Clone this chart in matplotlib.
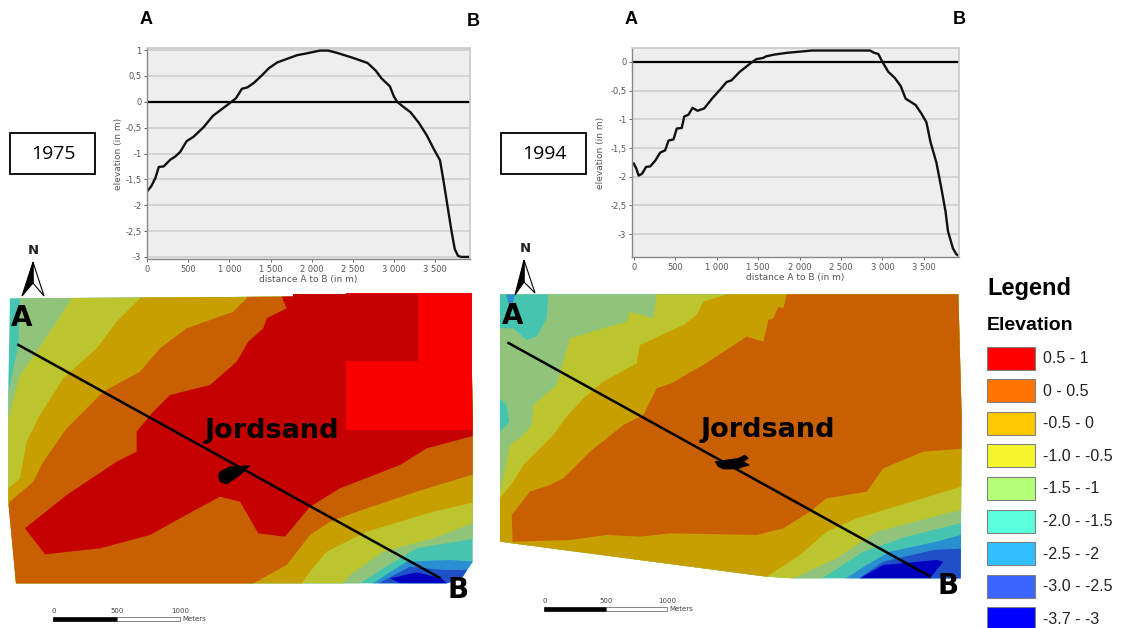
import matplotlib
matplotlib.use('Agg')
import matplotlib.pyplot as plt
from matplotlib.patches import Polygon, Rectangle

W, H = 1124, 628

# elevation profiles A to B
dist_1975 = [0, 50, 100, 140, 200, 280, 340, 400, 480, 560, 680, 800, 900, 1000, 1080, 1150, 1220, 1300, 1400, 1480,
             1580, 1700, 1820, 1950, 2100, 2200, 2300, 2500, 2680, 2780, 2850, 2950, 3000, 3040, 3100, 3200, 3300,
             3400, 3480, 3560, 3600, 3650, 3700, 3740, 3780, 3820, 3900]
elev_1975 = [-1.73, -1.63, -1.47, -1.26, -1.25, -1.12, -1.06, -0.97, -0.76, -0.68, -0.5, -0.27, -0.15, -0.03, 0.07,
             0.25, 0.28, 0.37, 0.52, 0.65, 0.76, 0.83, 0.9, 0.94, 0.99, 0.99, 0.95, 0.85, 0.75, 0.6, 0.45, 0.3, 0.1,
             0.0, -0.08, -0.2, -0.4, -0.65, -0.9, -1.13, -1.5, -2.0, -2.5, -2.85, -2.98, -3.0, -3.0]
dist_1994 = [0, 30, 60, 100, 150, 200, 260, 320, 380, 420, 480, 520, 580, 610, 660, 710, 770, 850, 950, 1050, 1120,
             1180, 1280, 1350, 1420, 1480, 1560, 1600, 1700, 1850, 2000, 2150, 2500, 2850, 2900, 2950, 3000, 3070,
             3150, 3220, 3280, 3400, 3470, 3530, 3580, 3650, 3710, 3760, 3790, 3850, 3890, 3910]
elev_1994 = [-1.77, -1.85, -1.98, -1.95, -1.83, -1.82, -1.72, -1.58, -1.54, -1.37, -1.35, -1.16, -1.15, -0.95, -0.92,
             -0.8, -0.85, -0.81, -0.63, -0.47, -0.35, -0.32, -0.17, -0.09, -0.01, 0.05, 0.07, 0.1, 0.13, 0.16, 0.18,
             0.2, 0.2, 0.2, 0.16, 0.14, 0.0, -0.17, -0.28, -0.42, -0.64, -0.75, -0.9, -1.05, -1.4, -1.75, -2.2, -2.6,
             -2.95, -3.25, -3.35, -3.37]

x_ticks = [0, 500, 1000, 1500, 2000, 2500, 3000, 3500]
x_labels = ['0', '500', '1 000', '1 500', '2 000', '2 500', '3 000', '3 500']
y_ticks_1975 = [1, 0.5, 0, -0.5, -1, -1.5, -2, -2.5, -3]
y_labels_1975 = ['1', '0,5', '0', '-0,5', '-1', '-1,5', '-2', '-2,5', '-3']
y_ticks_1994 = [0, -0.5, -1, -1.5, -2, -2.5, -3]
y_labels_1994 = ['0', '-0,5', '-1', '-1,5', '-2', '-2,5', '-3']

# legend
legend_labels = ['0.5 - 1', '0 - 0.5', '-0.5 - 0', '-1.0 - -0.5', '-1.5 - -1', '-2.0 - -1.5', '-2.5 - -2',
                 '-3.0 - -2.5', '-3.7 - -3']
legend_colors = ['#ff0000', '#ff7300', '#ffc800', '#f5f52e', '#b4ff78', '#5affdc', '#30c0ff', '#3c64ff', '#0000ff']

# map colours, darker than the legend in the picture
c_red = '#c40000'
c_bright = '#f80000'
c_orange = '#c85f00'
c_gold = '#c89f00'
c_yellow = '#bcc52e'
c_green = '#8fc47a'
c_teal = '#45c4b0'
c_blue = '#2a8fd0'
c_mid = '#2050c8'
c_navy = '#0000c0'

# map outlines and zones, traced on 3x crops
out_75 = [(30, 40), (850, 35), (1412, 25), (1418, 400), (1418, 830), (1385, 880), (1340, 895), (48, 895), (25, 650),
          (25, 300)]
green_75 = [(60, 0), (60, 40), (55, 180), (30, 300), (0, 400), (0, 920), (1080, 920), (1080, 895), (1150, 850),
            (1250, 790), (1430, 760), (1430, 0)]
yellow_75 = [(215, 0), (215, 40), (170, 110), (110, 200), (60, 270), (25, 400), (0, 500), (0, 920), (1030, 920),
             (1030, 895), (1050, 870), (1150, 800), (1300, 760), (1430, 710), (1430, 0)]
gold_75 = [(420, 0), (420, 40), (350, 110), (290, 190), (190, 280), (120, 390), (80, 470), (60, 580), (25, 610),
           (0, 700), (0, 920), (905, 920), (905, 895), (930, 860), (980, 800), (1100, 740), (1300, 680), (1430, 650),
           (1430, 0)]
orange_75 = [(740, 0), (740, 40), (700, 80), (560, 130), (480, 190), (420, 260), (310, 320), (200, 430), (130, 530),
             (100, 590), (30, 650), (0, 700), (0, 920), (760, 920), (760, 895), (860, 840), (930, 750), (990, 710),
             (1100, 670), (1250, 620), (1430, 565), (1430, 0)]
red_75 = [(845, 35), (860, 70), (800, 100), (790, 130), (745, 170), (710, 230), (630, 300), (510, 330), (460, 380),
          (410, 440), (410, 500), (350, 530), (200, 630), (75, 730), (135, 808), (300, 790), (450, 750), (540, 700),
          (660, 635), (720, 650), (775, 745), (855, 755), (930, 665), (1020, 610), (1200, 540), (1280, 490),
          (1430, 450), (1430, 0), (845, 0)]
blue_75 = [(1110, 900), (1220, 830), (1350, 825), (1430, 830), (1430, 900)]
mid_75 = [(1135, 895), (1230, 845), (1330, 855), (1400, 855), (1390, 900)]
navy_75 = [(1170, 880), (1250, 862), (1325, 880), (1340, 895), (1200, 895)]
isle_75 = [(660, 560), (690, 545), (750, 542), (720, 570), (680, 597), (660, 590), (655, 575)]

out_94 = [(30, 28), (1405, 28), (1415, 400), (1412, 880), (910, 880), (830, 875), (30, 770)]
green_94 = [(0, 0), (0, 920), (1000, 920), (1000, 878), (1120, 800), (1250, 755), (1430, 710), (1430, 0)]
yellow_94 = [(500, 0), (500, 28), (490, 100), (420, 80), (410, 110), (340, 130), (240, 160), (225, 210), (200, 300),
             (130, 360), (125, 420), (100, 450), (60, 480), (30, 620), (0, 700), (0, 920), (910, 920), (910, 880),
             (1040, 820), (1160, 740), (1430, 670), (1430, 0)]
gold_94 = [(710, 0), (710, 28), (640, 50), (620, 90), (580, 120), (450, 180), (440, 235), (340, 290), (280, 340),
           (230, 395), (190, 450), (100, 540), (70, 590), (30, 640), (0, 700), (0, 920), (830, 920), (830, 875),
           (930, 810), (1010, 740), (1100, 700), (1430, 600), (1430, 0)]
orange_94 = [(890, 0), (890, 28), (880, 70), (865, 65), (850, 100), (835, 105), (820, 170), (770, 155), (640, 240),
             (595, 265), (545, 295), (500, 310), (460, 390), (400, 420), (300, 500), (220, 580), (180, 600), (120, 620),
             (65, 690), (68, 770), (240, 765), (350, 750), (450, 755), (540, 745), (800, 750), (880, 730), (960, 680),
             (1010, 640), (1130, 620), (1180, 550), (1300, 500), (1430, 490), (1430, 0)]
teal_94 = [(30, 28), (175, 28), (170, 100), (140, 155), (110, 165), (70, 130), (30, 130)]
teal2_94 = [(30, 340), (50, 360), (58, 410), (30, 440)]
spot_94 = [(48, 28), (75, 28), (68, 55), (55, 55)]
blue_94 = [(1060, 885), (1130, 840), (1200, 800), (1340, 770), (1430, 745), (1430, 885)]
mid_94 = [(1100, 885), (1180, 830), (1330, 795), (1430, 790), (1430, 885)]
navy_94 = [(1110, 880), (1180, 840), (1340, 825), (1360, 830), (1320, 880)]
isle_94 = [(675, 530), (710, 525), (745, 520), (765, 510), (775, 520), (760, 530), (778, 540), (740, 552), (700, 552),
           (685, 545)]

# section lines in the same crop units
line_75 = [(52, 178), (1322, 880)]
line_94 = [(52, 172), (1322, 875)]


def crop(points, left):
    return [(left + x / 3, 285 + y / 3) for x, y in points]


fig = plt.figure(figsize=(W / 100, H / 100), dpi=100)
bg = fig.add_axes([0, 0, 1, 1])
bg.set_xlim(0, W)
bg.set_ylim(H, 0)
bg.axis('off')


def draw_map(outline, zones, left):
    clip = Polygon(crop(outline, left), closed=True, transform=bg.transData)
    bg.add_patch(Polygon(crop(outline, left), closed=True, fc=c_teal, ec='none'))
    for pts, col in zones:
        p = Polygon(crop(pts, left), closed=True, fc=col, ec='none')
        bg.add_patch(p)
        p.set_clip_path(clip)


draw_map(out_75, [(green_75, c_green), (yellow_75, c_yellow), (gold_75, c_gold), (orange_75, c_orange),
                  (red_75, c_red), (blue_75, c_blue), (mid_75, c_mid), (navy_75, c_navy)], 0)
draw_map(out_94, [(green_94, c_green), (yellow_94, c_yellow), (gold_94, c_gold), (orange_94, c_orange),
                  (teal_94, c_teal), (teal2_94, c_teal), (spot_94, c_blue), (blue_94, c_blue), (mid_94, c_mid),
                  (navy_94, c_navy)], 490)

# painted over patches on the 1975 map
bg.add_patch(Rectangle((346, 293), 125.5, 137, fc=c_bright, ec='none'))
bg.add_patch(Rectangle((293, 294), 125, 66.5, fc=c_red, ec='none'))

bg.add_patch(Polygon(crop(isle_75, 0), closed=True, fc='black', ec='black', lw=0.5))
bg.add_patch(Polygon(crop(isle_94, 490), closed=True, fc='black', ec='black', lw=0.5))

for pts, left in [(line_75, 0), (line_94, 490)]:
    xy = crop(pts, left)
    bg.plot([xy[0][0], xy[1][0]], [xy[0][1], xy[1][1]], color='black', lw=1.8, solid_capstyle='butt')

bg.text(272, 431, 'Jordsand', fontsize=19.5, fontweight='bold', ha='center', va='center')
bg.text(768, 430, 'Jordsand', fontsize=19.5, fontweight='bold', ha='center', va='center')
for x, y, s in [(22, 318, 'A'), (458, 590, 'B'), (513, 316, 'A'), (948, 586, 'B')]:
    bg.text(x, y, s, fontsize=20, fontweight='bold', ha='center', va='center')

for x, y, s in [(146, 20, 'A'), (473, 21, 'B'), (631, 20, 'A'), (959, 20, 'B')]:
    bg.text(x, y, s, fontsize=13, fontweight='bold', family='Liberation Sans', ha='center', va='center')

# year boxes
for x, s in [(10, '1975'), (501, '1994')]:
    bg.add_patch(Rectangle((x, 133), 85, 41, fc='white', ec='black', lw=1.3))
    bg.text(x + 43, 154, s, fontsize=14, family='Open Sans', ha='center', va='center')

# north arrows
for tip, lb, rb, notch, n in [((33, 262), (22, 296), (44, 296), (33, 283), (33, 250)),
                              ((524, 260), (515, 295), (535, 293), (524, 282), (525, 249))]:
    bg.add_patch(Polygon([tip, notch, rb], closed=True, fc='white', ec='black', lw=0.8))
    bg.add_patch(Polygon([tip, lb, notch], closed=True, fc='black', ec='black', lw=0.8))
    bg.text(n[0], n[1], 'N', fontsize=9.5, fontweight='bold', color='#222222', ha='center', va='center')

# scale bars
for x0, x1, x2, y in [(53.3, 116.7, 180, 617), (544.3, 605.7, 667.3, 607)]:
    bg.add_patch(Rectangle((x0, y), x1 - x0, 4, fc='black', ec='black', lw=0.5))
    bg.add_patch(Rectangle((x1, y), x2 - x1, 4, fc='white', ec='#555555', lw=0.5))
    for xp, s in [(x0, '0'), (x1, '500'), (x2, '1000')]:
        bg.text(xp, y - 6, s, fontsize=5, color='#444444', ha='center', va='center')
    bg.text(x2 + 2, y + 2, 'Meters', fontsize=5, color='#444444', ha='left', va='center')

# legend
bg.text(987, 288, 'Legend', fontsize=17, fontweight='bold', family='Liberation Sans', ha='left', va='center')
bg.text(987, 326, 'Elevation', fontsize=14, fontweight='bold', family='Liberation Sans', ha='left', va='center')
for i, (lab, col) in enumerate(zip(legend_labels, legend_colors)):
    y = 346.5 + i * 32.6
    bg.add_patch(Rectangle((987, y), 48, 23, fc=col, ec='#808080', lw=0.8))
    bg.text(1043, y + 12, lab, fontsize=11.5, family='Liberation Sans', color='#222222', ha='left', va='center')


def draw_profile(box, xlim, ylim, dist, elev, yticks, ylabels, ylab_x):
    l, t, r, b = box
    ax = fig.add_axes([l / W, 1 - b / H, (r - l) / W, (b - t) / H])
    ax.set_facecolor('#eeeeee')
    ax.set_xlim(xlim)
    ax.set_ylim(ylim)
    ax.set_yticks(yticks)
    ax.set_yticklabels(ylabels)
    ax.set_xticks(x_ticks)
    ax.set_xticklabels(x_labels)
    ax.tick_params(labelsize=6, length=2, width=0.7, pad=2, color='#666666', labelcolor='#555555')
    ax.grid(axis='y', color='#d2d2d2', lw=1.3)
    ax.set_axisbelow(True)
    for side in ['top', 'right']:
        ax.spines[side].set_color('#c8c8c8')
        ax.spines[side].set_linewidth(1.2)
    for side in ['left', 'bottom']:
        ax.spines[side].set_color('#888888')
        ax.spines[side].set_linewidth(1)
    ax.axhline(0, color='black', lw=1.6)
    ax.plot(dist, elev, color='#111111', lw=1.7)
    ax.set_xlabel('distance A to B (in m)', fontsize=6.5, color='#555555', labelpad=1)
    ax.set_ylabel('elevation (in m)', fontsize=6.5, color='#555555')
    ax.yaxis.set_label_coords((ylab_x - l) / (r - l), 0.5)


draw_profile((147, 48, 470, 259), (-3, 3925), (-3.04, 1.04), dist_1975, elev_1975, y_ticks_1975, y_labels_1975, 123)
draw_profile((632, 48, 959, 257), (-20, 3923), (-3.4, 0.244), dist_1994, elev_1994, y_ticks_1994, y_labels_1994, 605)

fig.savefig('out.png', dpi=100)
